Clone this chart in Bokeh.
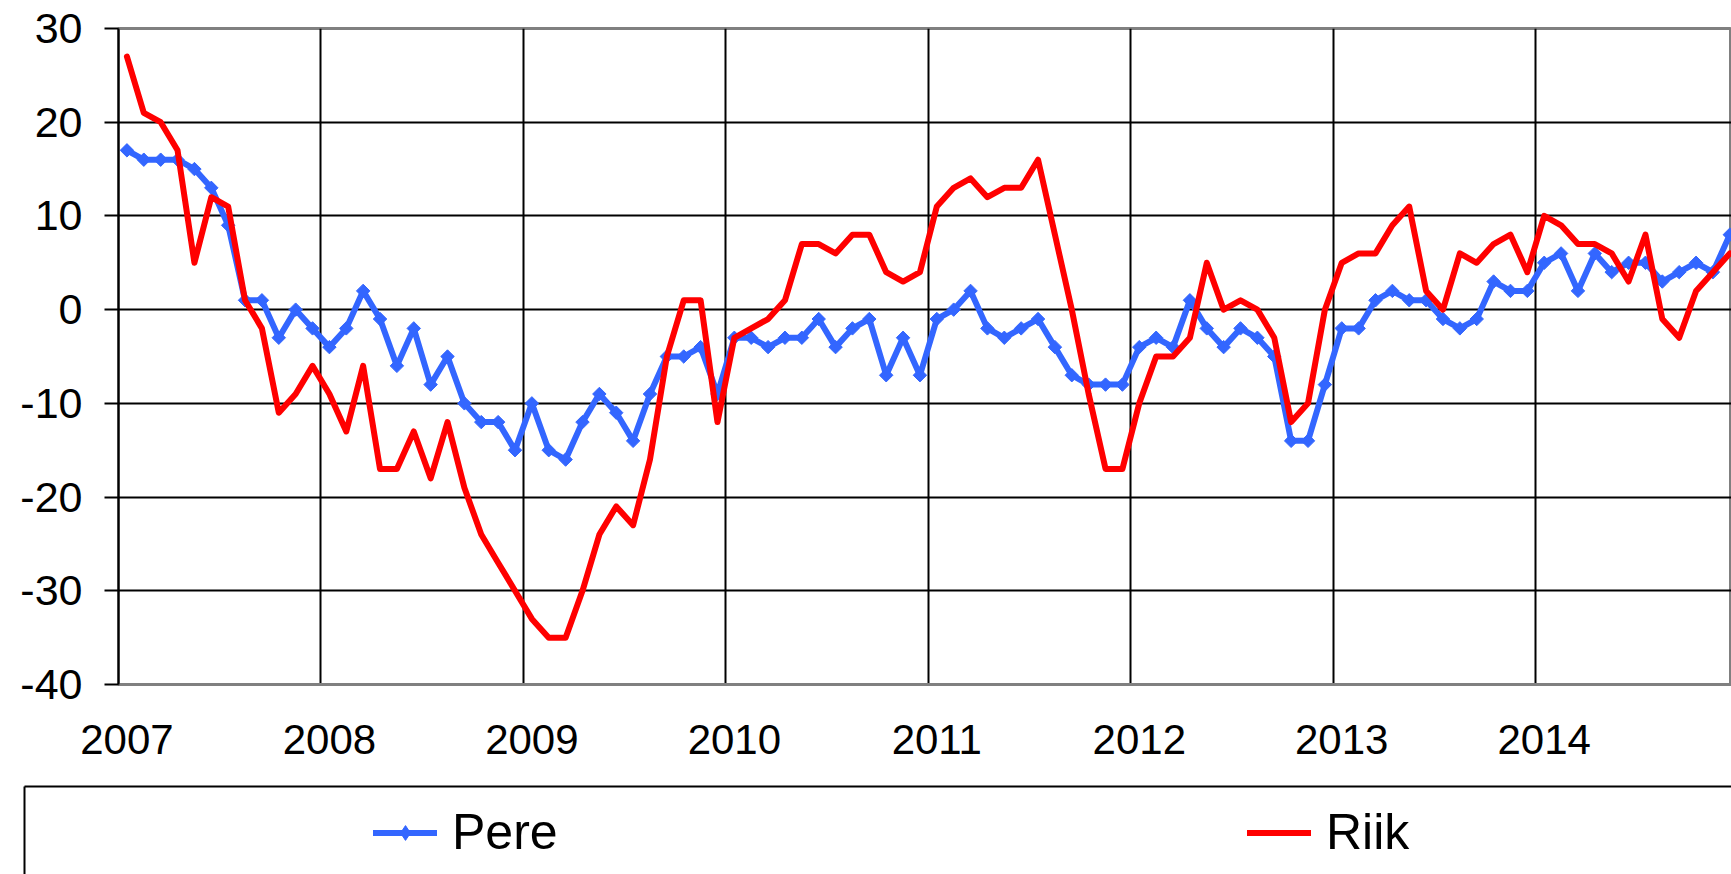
import numpy as np
from bokeh.plotting import figure
from bokeh.layouts import column
from bokeh.models import Range1d, FixedTicker, Legend, LegendItem
from bokeh.embed import file_html
from bokeh.resources import INLINE

# ---- data (monthly, Jan 2007 .. Dec 2014) ----
years = ["2007", "2008", "2009", "2010", "2011", "2012", "2013", "2014"]
series_names = ["Pere", "Riik"]
pere = [17, 16, 16, 16, 15, 13, 9, 1, 1, -3, 0, -2,
        -4, -2, 2, -1, -6, -2, -8, -5, -10, -12, -12, -15,
        -10, -15, -16, -12, -9, -11, -14, -9, -5, -5, -4, -9,
        -3, -3, -4, -3, -3, -1, -4, -2, -1, -7, -3, -7,
        -1, 0, 2, -2, -3, -2, -1, -4, -7, -8, -8, -8,
        -4, -3, -4, 1, -2, -4, -2, -3, -5, -14, -14, -8,
        -2, -2, 1, 2, 1, 1, -1, -2, -1, 3, 2, 2,
        5, 6, 2, 6, 4, 5, 5, 3, 4, 5, 4, 8]
riik = [27, 21, 20, 17, 5, 12, 11, 1, -2, -11, -9, -6,
        -9, -13, -6, -17, -17, -13, -18, -12, -19, -24, -27, -30,
        -33, -35, -35, -30, -24, -21, -23, -16, -5, 1, 1, -12,
        -3, -2, -1, 1, 7, 7, 6, 8, 8, 4, 3, 4,
        11, 13, 14, 12, 13, 13, 16, 8, 0, -9, -17, -17,
        -10, -5, -5, -3, 5, 0, 1, 0, -3, -12, -10, 0,
        5, 6, 6, 9, 11, 2, 0, 6, 5, 7, 8, 4,
        10, 9, 7, 7, 6, 3, 8, -1, -3, 2, 4, 6]
y_ticks = [-40, -30, -20, -10, 0, 10, 20, 30]
y_tick_labels = ["-40", "-30", "-20", "-10", "0", "10", "20", "30"]

# month index, each month centred in its category slot
x = np.arange(len(pere)) + 0.5

FONT = "Liberation Sans"
BLUE = "#3366FF"
RED = "#FF0000"

p = figure(width=1731, height=780, output_backend="svg", toolbar_location=None,
           x_range=Range1d(0, 95.6), y_range=Range1d(-40, 30),
           min_border_left=118, min_border_right=0, min_border_top=28,
           min_border_bottom=96, background_fill_color="white",
           border_fill_color="white")
p.frame_align = False

p.outline_line_color = "#808080"
p.outline_line_width = 3

# grid
p.xgrid.ticker = FixedTicker(ticks=[12 * i for i in range(len(years) + 1)])
p.xgrid.grid_line_color = "black"
p.xgrid.grid_line_width = 2
p.ygrid.ticker = FixedTicker(ticks=y_ticks)
p.ygrid.grid_line_color = "black"
p.ygrid.grid_line_width = 2

# x axis: year labels at January of each year
p.xaxis.ticker = FixedTicker(ticks=[12 * i + 0.5 for i in range(len(years))])
p.xaxis.major_label_overrides = {12 * i + 0.5: y for i, y in enumerate(years)}
p.xaxis.major_tick_out = 0
p.xaxis.major_tick_in = 0
p.xaxis.minor_tick_out = 0
p.xaxis.minor_tick_in = 0
p.xaxis.axis_line_color = "#808080"
p.xaxis.axis_line_width = 3
p.xaxis.major_label_standoff = 40
p.xaxis.major_label_text_font = FONT
p.xaxis.major_label_text_font_size = "42px"
p.xaxis.major_label_text_color = "black"

# y axis
p.yaxis.ticker = FixedTicker(ticks=y_ticks)
p.yaxis.major_label_overrides = dict(zip(y_ticks, y_tick_labels))
p.yaxis.major_tick_out = 14
p.yaxis.major_tick_in = 0
p.yaxis.minor_tick_out = 0
p.yaxis.minor_tick_in = 0
p.yaxis.major_tick_line_color = "black"
p.yaxis.major_tick_line_width = 2
p.yaxis.axis_line_color = "black"
p.yaxis.axis_line_width = 2
p.yaxis.major_label_standoff = 22
p.yaxis.major_label_text_font = FONT
p.yaxis.major_label_text_font_size = "43px"
p.yaxis.major_label_text_color = "black"

p.line(x, pere, line_color=BLUE, line_width=6, line_join="round")
p.scatter(x, pere, marker="square", angle=np.pi / 4, size=9.5,
          fill_color=BLUE, line_color=BLUE)
p.line(x, riik, line_color=RED, line_width=6, line_join="round", line_cap="round")

# ---- legend panel (boxed area below the chart) ----
# its ranges lie outside the data, so the series only serve the legend swatches
pl = figure(width=1731, height=94, output_backend="svg", toolbar_location=None,
            x_range=Range1d(-3, -2), y_range=Range1d(0, 1),
            x_axis_location="above", y_axis_location="left",
            min_border_left=24, min_border_right=0, min_border_top=6,
            min_border_bottom=0, background_fill_color="white",
            border_fill_color="white")
pl.frame_align = False
pl.outline_line_color = None
pl.xgrid.visible = False
pl.ygrid.visible = False
for ax in (pl.xaxis[0], pl.yaxis[0]):
    ax.ticker = FixedTicker(ticks=[])
    ax.major_tick_out = 0
    ax.major_tick_in = 0
    ax.minor_tick_out = 0
    ax.minor_tick_in = 0
    ax.major_label_standoff = 0
    ax.axis_line_color = "black"
    ax.axis_line_width = 2

lg_pere_line = pl.line(x, pere, line_color=BLUE, line_width=6, line_cap="round")
lg_pere_pt = pl.scatter(x, pere, marker="diamond", size=14,
                        fill_color=BLUE, line_color=BLUE)
lg_riik = pl.line(x, riik, line_color=RED, line_width=6, line_cap="round")

legend = Legend(items=[LegendItem(label=series_names[0], renderers=[lg_pere_line, lg_pere_pt]),
                       LegendItem(label=series_names[1], renderers=[lg_riik])],
                location=(349, 12), orientation="horizontal",
                glyph_width=64, glyph_height=37, label_height=60, label_width=795,
                label_standoff=15, spacing=0, padding=0, margin=0,
                border_line_alpha=0, background_fill_alpha=0,
                label_text_font=FONT, label_text_font_size="50px",
                label_text_color="black")
pl.add_layout(legend)

open("out.html", "w").write(file_html(column(p, pl), INLINE))
